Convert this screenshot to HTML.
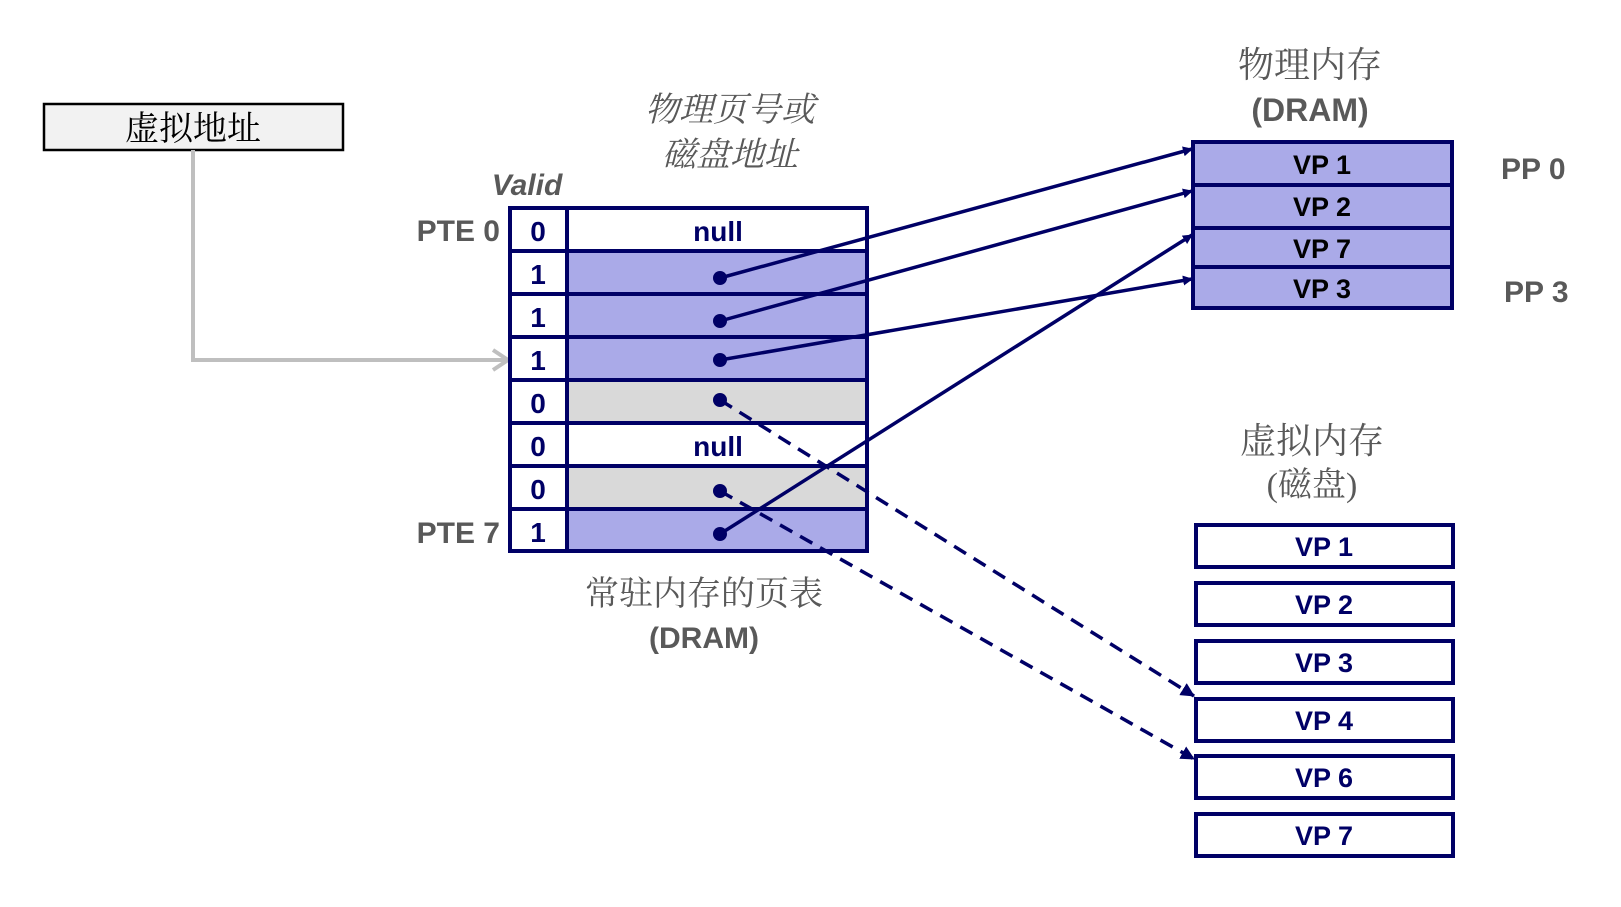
<!DOCTYPE html>
<html><head><meta charset="utf-8"><style>
body{margin:0;background:#fff;}
svg{display:block}
.b{font-family:"Liberation Sans","Noto Sans CJK SC",sans-serif;font-weight:bold;}
.s{font-family:"Liberation Serif","Noto Serif CJK SC",serif;}
</style></head><body>
<svg width="1621" height="907" viewBox="0 0 1621 907" xmlns="http://www.w3.org/2000/svg">
<defs>
<marker id="ah" markerWidth="10" markerHeight="10" refX="9" refY="5" orient="auto" markerUnits="userSpaceOnUse"><path d="M0,0 L10,5 L0,10 z" fill="#000066"/></marker>
<marker id="ah2" markerWidth="14" markerHeight="14" refX="13" refY="7" orient="auto" markerUnits="userSpaceOnUse"><path d="M0,0 L14,7 L0,14 z" fill="#000066"/></marker>
</defs>
<!-- virtual address box -->
<rect x="44" y="104" width="299" height="46" fill="#f2f2f2" stroke="#000" stroke-width="2.5"/>
<text x="193" y="140" class="s" font-size="34" text-anchor="middle" fill="#000">虚拟地址</text>
<polyline points="193,150 193,360 507,360" fill="none" stroke="#bfbfbf" stroke-width="4"/>
<polyline points="493,350 508,360 493,370" fill="none" stroke="#bfbfbf" stroke-width="4"/>

<!-- titles -->
<text x="730" y="121" class="s" font-size="34" font-style="italic" text-anchor="middle" fill="#595959">物理页号或</text>
<text x="730" y="166" class="s" font-size="34" font-style="italic" text-anchor="middle" fill="#595959">磁盘地址</text>
<text x="527" y="195" class="b" font-size="30" font-style="italic" text-anchor="middle" fill="#595959">Valid</text>
<text x="500" y="241" class="b" font-size="30" text-anchor="end" fill="#595959">PTE 0</text>
<text x="500" y="543" class="b" font-size="30" text-anchor="end" fill="#595959">PTE 7</text>

<!-- table -->
<g stroke="#000066" stroke-width="4">
<rect x="567" y="208" width="300" height="43" fill="#fff"/>
<rect x="567" y="251" width="300" height="43" fill="#aaaae8"/>
<rect x="567" y="294" width="300" height="43" fill="#aaaae8"/>
<rect x="567" y="337" width="300" height="43" fill="#aaaae8"/>
<rect x="567" y="380" width="300" height="43" fill="#d9d9d9"/>
<rect x="567" y="423" width="300" height="43" fill="#fff"/>
<rect x="567" y="466" width="300" height="43" fill="#d9d9d9"/>
<rect x="567" y="509" width="300" height="42" fill="#aaaae8"/>
<rect x="510" y="208" width="57" height="343" fill="#fff"/>
<line x1="510" y1="251" x2="567" y2="251"/><line x1="510" y1="294" x2="567" y2="294"/>
<line x1="510" y1="337" x2="567" y2="337"/><line x1="510" y1="380" x2="567" y2="380"/>
<line x1="510" y1="423" x2="567" y2="423"/><line x1="510" y1="466" x2="567" y2="466"/>
<line x1="510" y1="509" x2="567" y2="509"/>
</g>
<g class="b" font-size="28" fill="#000066" text-anchor="middle">
<text x="538" y="241">0</text><text x="538" y="284">1</text><text x="538" y="327">1</text><text x="538" y="370">1</text>
<text x="538" y="413">0</text><text x="538" y="456">0</text><text x="538" y="499">0</text><text x="538" y="542">1</text>
<text x="718" y="241">null</text><text x="718" y="456">null</text>
</g>
<text x="704" y="605" class="s" font-size="34" text-anchor="middle" fill="#595959">常驻内存的页表</text>
<text x="704" y="648" class="b" font-size="30" text-anchor="middle" fill="#595959">(DRAM)</text>

<!-- physical memory -->
<text x="1310" y="77" class="s" font-size="36" text-anchor="middle" fill="#595959">物理内存</text>
<text x="1310" y="121" class="b" font-size="32" text-anchor="middle" fill="#595959">(DRAM)</text>
<g stroke="#000066" stroke-width="4" fill="#aaaae8">
<rect x="1193" y="142" width="259" height="43"/><rect x="1193" y="185" width="259" height="43"/>
<rect x="1193" y="228" width="259" height="39"/><rect x="1193" y="267" width="259" height="41"/>
</g>
<g class="b" font-size="27" fill="#000" text-anchor="middle">
<text x="1322" y="174">VP 1</text><text x="1322" y="216">VP 2</text><text x="1322" y="258">VP 7</text><text x="1322" y="298">VP 3</text>
</g>
<text x="1501" y="179" class="b" font-size="30" fill="#595959">PP 0</text>
<text x="1504" y="302" class="b" font-size="30" fill="#595959">PP 3</text>

<!-- virtual memory disk -->
<text x="1312" y="453" class="s" font-size="36" text-anchor="middle" fill="#595959">虚拟内存</text>
<text x="1312" y="496" class="s" font-size="34" text-anchor="middle" fill="#595959">(磁盘)</text>
<g stroke="#000066" stroke-width="4" fill="#fff">
<rect x="1196" y="525" width="257" height="42"/><rect x="1196" y="583" width="257" height="42"/>
<rect x="1196" y="641" width="257" height="42"/><rect x="1196" y="699" width="257" height="42"/>
<rect x="1196" y="756" width="257" height="42"/><rect x="1196" y="814" width="257" height="42"/>
</g>
<g class="b" font-size="27" fill="#000066" text-anchor="middle">
<text x="1324" y="556">VP 1</text><text x="1324" y="614">VP 2</text><text x="1324" y="672">VP 3</text>
<text x="1324" y="730">VP 4</text><text x="1324" y="787">VP 6</text><text x="1324" y="845">VP 7</text>
</g>

<!-- connectors -->
<g stroke="#000066" stroke-width="3.5" fill="none">
<line x1="720" y1="278" x2="1192" y2="149" marker-end="url(#ah)"/>
<line x1="720" y1="321" x2="1192" y2="191" marker-end="url(#ah)"/>
<line x1="720" y1="360" x2="1192" y2="279" marker-end="url(#ah)"/>
<line x1="720" y1="534" x2="1192" y2="235" marker-end="url(#ah)"/>
<line x1="720" y1="400" x2="1194" y2="696" stroke-dasharray="14,9" marker-end="url(#ah2)"/>
<line x1="720" y1="491" x2="1194" y2="759" stroke-dasharray="14,9" marker-end="url(#ah2)"/>
</g>
<g fill="#000066">
<circle cx="720" cy="278" r="7"/><circle cx="720" cy="321" r="7"/><circle cx="720" cy="360" r="7"/>
<circle cx="720" cy="400" r="7"/><circle cx="720" cy="491" r="7"/><circle cx="720" cy="534" r="7"/>
</g>
</svg>
</body></html>
